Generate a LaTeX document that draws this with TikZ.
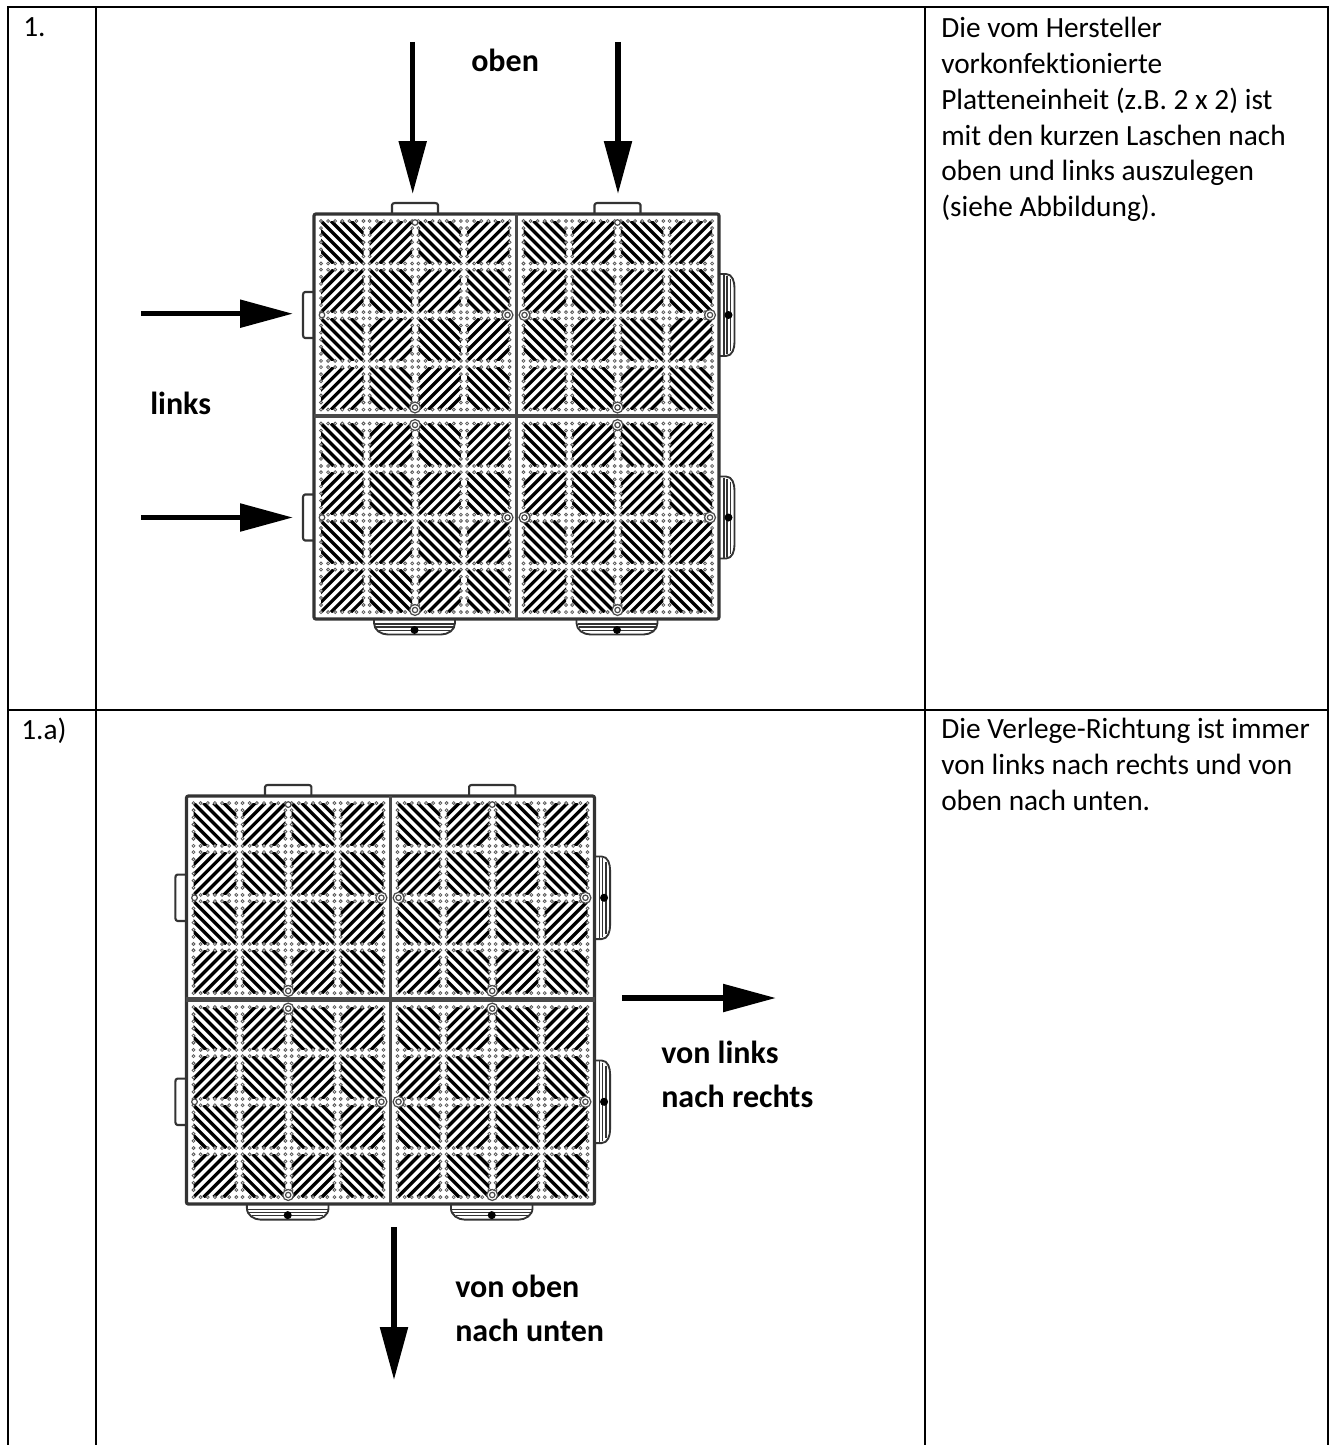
\documentclass[tikz,border=0pt]{standalone}
\usepackage{fontspec}
\setmainfont[Ligatures=NoCommon]{Carlito}
\usetikzlibrary{arrows.meta}
\definecolor{frameC}{HTML}{333333}
\definecolor{seamC}{HTML}{4A4A4A}
\definecolor{ringC}{HTML}{4A4A4A}
\definecolor{dotC}{HTML}{5A5A5A}
\tikzset{
  grid line/.style={line width=1.75pt,black},
  bigarrow/.style={line width=4.1pt,black,-{Triangle[length=39.75pt,width=20.25pt]}},
  body/.style={anchor=north west,inner sep=0pt,align=left,font=\fontsize{22}{26.85}\selectfont},
  strong/.style={anchor=north west,inner sep=0pt,align=left,font=\fontsize{24}{33}\selectfont\bfseries},
  bars/.style={line width=2.5pt,black},
  dots/.style={line width=0.6pt,dotC,fill=white},
  tabline/.style={line width=1.6pt,frameC,fill=white,line join=round},
  thin tab/.style={line width=0.9pt,frameC},
}
% one block of the plate: #1,#2 top left corner, #3 direction (1 falling, -1 rising)
\newcommand\blockat[3]{%
  \begin{scope}[shift={(#1,#2)}]
    \begin{scope}
      \clip (0,0) rectangle (42.5,42.5);
      \ifnum#3=1
        \draw[bars] foreach \k in {-30,-20,-10,0,10,20,30}{(\k,0)--(\k+42.5,42.5)};
      \else
        \draw[bars] foreach \k in {-30,-20,-10,0,10,20,30}{(\k,42.5)--(\k+42.5,0)};
      \fi
    \end{scope}
    \path[dots,draw] foreach \t in {0,7.08,14.17,21.25,28.33,35.42,42.5}{
      (\t,0) circle[radius=1.1pt] (\t,42.5) circle[radius=1.1pt]
      (0,\t) circle[radius=1.1pt] (42.5,\t) circle[radius=1.1pt]};
  \end{scope}}
\newcommand\tileat[2]{%
  \begin{scope}[shift={(#1,#2)}]
    \blockat{0}{0}{1}\blockat{48.7}{0}{-1}\blockat{97.4}{0}{1}\blockat{146.1}{0}{-1}
    \blockat{0}{48.7}{-1}\blockat{48.7}{48.7}{1}\blockat{97.4}{48.7}{-1}\blockat{146.1}{48.7}{1}
    \blockat{0}{97.4}{1}\blockat{48.7}{97.4}{-1}\blockat{97.4}{97.4}{1}\blockat{146.1}{97.4}{-1}
    \blockat{0}{146.1}{-1}\blockat{48.7}{146.1}{1}\blockat{97.4}{146.1}{-1}\blockat{146.1}{146.1}{1}
  \end{scope}}
\newcommand\smallring[2]{\draw[line width=0.9pt,ringC,fill=white] (#1,#2) circle[radius=2.1pt];}
\newcommand\bigring[2]{\draw[line width=0.9pt,ringC,fill=white] (#1,#2) circle[radius=4.1pt] (#1,#2) circle[radius=2pt];}
\newcommand\shorttop[1]{\draw[tabline] (#1,214) -- (#1,205) to[out=90,in=180] (#1+3,203) -- (#1+43,203) to[out=0,in=90] (#1+46,205) -- (#1+46,214);}
\newcommand\shortleft[1]{\draw[tabline] (314,#1) -- (305,#1) to[out=180,in=90] (303,#1+3) -- (303,#1+43) to[out=-90,in=180] (305,#1+46) -- (314,#1+46);}
\newcommand\longright[1]{%
  \draw[tabline,line width=1.4pt] (720,#1) -- (726,#1) to[out=0,in=90] (734.5,#1+14) -- (734.5,#1+68) to[out=-90,in=0] (726,#1+82) -- (720,#1+82);
  \draw[thin tab] (724,#1+1)--(724,#1+81) (727,#1+2)--(727,#1+80) (730.5,#1+5)--(730.5,#1+77);
  \fill[black] (728.5,#1+41) circle[radius=3pt];}
\newcommand\longbottom[1]{%
  \draw[tabline,line width=1.4pt] (#1,620) -- (#1,623) to[out=-90,in=180] (#1+14,634.5) -- (#1+67,634.5) to[out=0,in=-90] (#1+81,623) -- (#1+81,620);
  \draw[thin tab] (#1+1,624)--(#1+80,624) (#1+2,627)--(#1+79,627) (#1+5,630.5)--(#1+76,630.5);
  \fill[black] (#1+40.5,630) circle[radius=3pt];}
\tikzset{plate/.pic={
  \shorttop{392}\shorttop{594.5}
  \shortleft{292}\shortleft{494.5}
  \longright{274}\longright{476.5}
  \longbottom{374}\longbottom{576.5}
  \draw[line width=2.4pt,frameC,fill=white,rounded corners=1.5pt] (314,214) rectangle (719,619);
  \draw[line width=2.6pt,seamC] (516.5,214) -- (516.5,619);
  \draw[line width=3.6pt,seamC] (314,416) -- (719,416);
  \tileat{321}{221}\tileat{523.5}{221}\tileat{321}{423.5}\tileat{523.5}{423.5}
  \smallring{415}{222.5}\smallring{617.5}{222.5}
  \smallring{322}{315}\smallring{322}{517.5}
  \bigring{507.5}{315}\bigring{710}{315}\bigring{507.5}{517.5}\bigring{710}{517.5}
  \bigring{524.5}{315}\bigring{524.5}{517.5}
  \bigring{415}{407.5}\bigring{617.5}{407.5}\bigring{415}{610}\bigring{617.5}{610}
  \bigring{415}{425}\bigring{617.5}{425}
}}
\begin{document}
\begin{tikzpicture}[x=0.75pt,y=-0.75pt]
\useasboundingbox (0,0) rectangle (1332,1445);
\fill[white] (0,0) rectangle (1332,1445);
% table
\draw[grid line] (8,1445) -- (8,7) -- (1328,7) -- (1328,1445);
\draw[grid line] (96,7) -- (96,1445);
\draw[grid line] (925,7) -- (925,1445);
\draw[grid line] (8,710) -- (1328,710);
% plates
\pic at (0,0) {plate};
\pic[scale=1.0075] at (-129.9,580.4) {plate};
% arrows
\coordinate (a1s) at (412.7,42);  \coordinate (a1e) at (412.7,194);
\coordinate (a2s) at (618,42);    \coordinate (a2e) at (618,194);
\coordinate (a3s) at (141,313.7); \coordinate (a3e) at (293,313.7);
\coordinate (a4s) at (141,517.5); \coordinate (a4e) at (293,517.5);
\coordinate (a5s) at (622,998);   \coordinate (a5e) at (776,998);
\coordinate (a6s) at (394,1227);  \coordinate (a6e) at (394,1380);
\draw[bigarrow] (a1s) -- (a1e);
\draw[bigarrow] (a2s) -- (a2e);
\draw[bigarrow] (a3s) -- (a3e);
\draw[bigarrow] (a4s) -- (a4e);
\draw[bigarrow] (a5s) -- (a5e);
\draw[bigarrow] (a6s) -- (a6e);
% text
\node[body] (n1) at (23,17) {1.};
\node[body] (n2) at (21,718) {1.a)};
\node[body] (d1) at (941,17) {Die vom Hersteller\\vorkonfektionierte\\Platteneinheit (z.B. 2 x 2) ist\\mit den kurzen Laschen nach\\oben und links auszulegen\\(siehe Abbildung).};
\node[body] (d2) at (941,718) {Die Verlege-Richtung ist immer\\von links nach rechts und von\\oben nach unten.};
\node[strong] (l1) at (471,49) {oben};
\node[strong] (l2) at (150,392) {links};
\node[strong] (l3) at (661,1041) {von links\\nach rechts};
\node[strong] (l4) at (455,1275) {von oben\\nach unten};
\end{tikzpicture}
\end{document}
